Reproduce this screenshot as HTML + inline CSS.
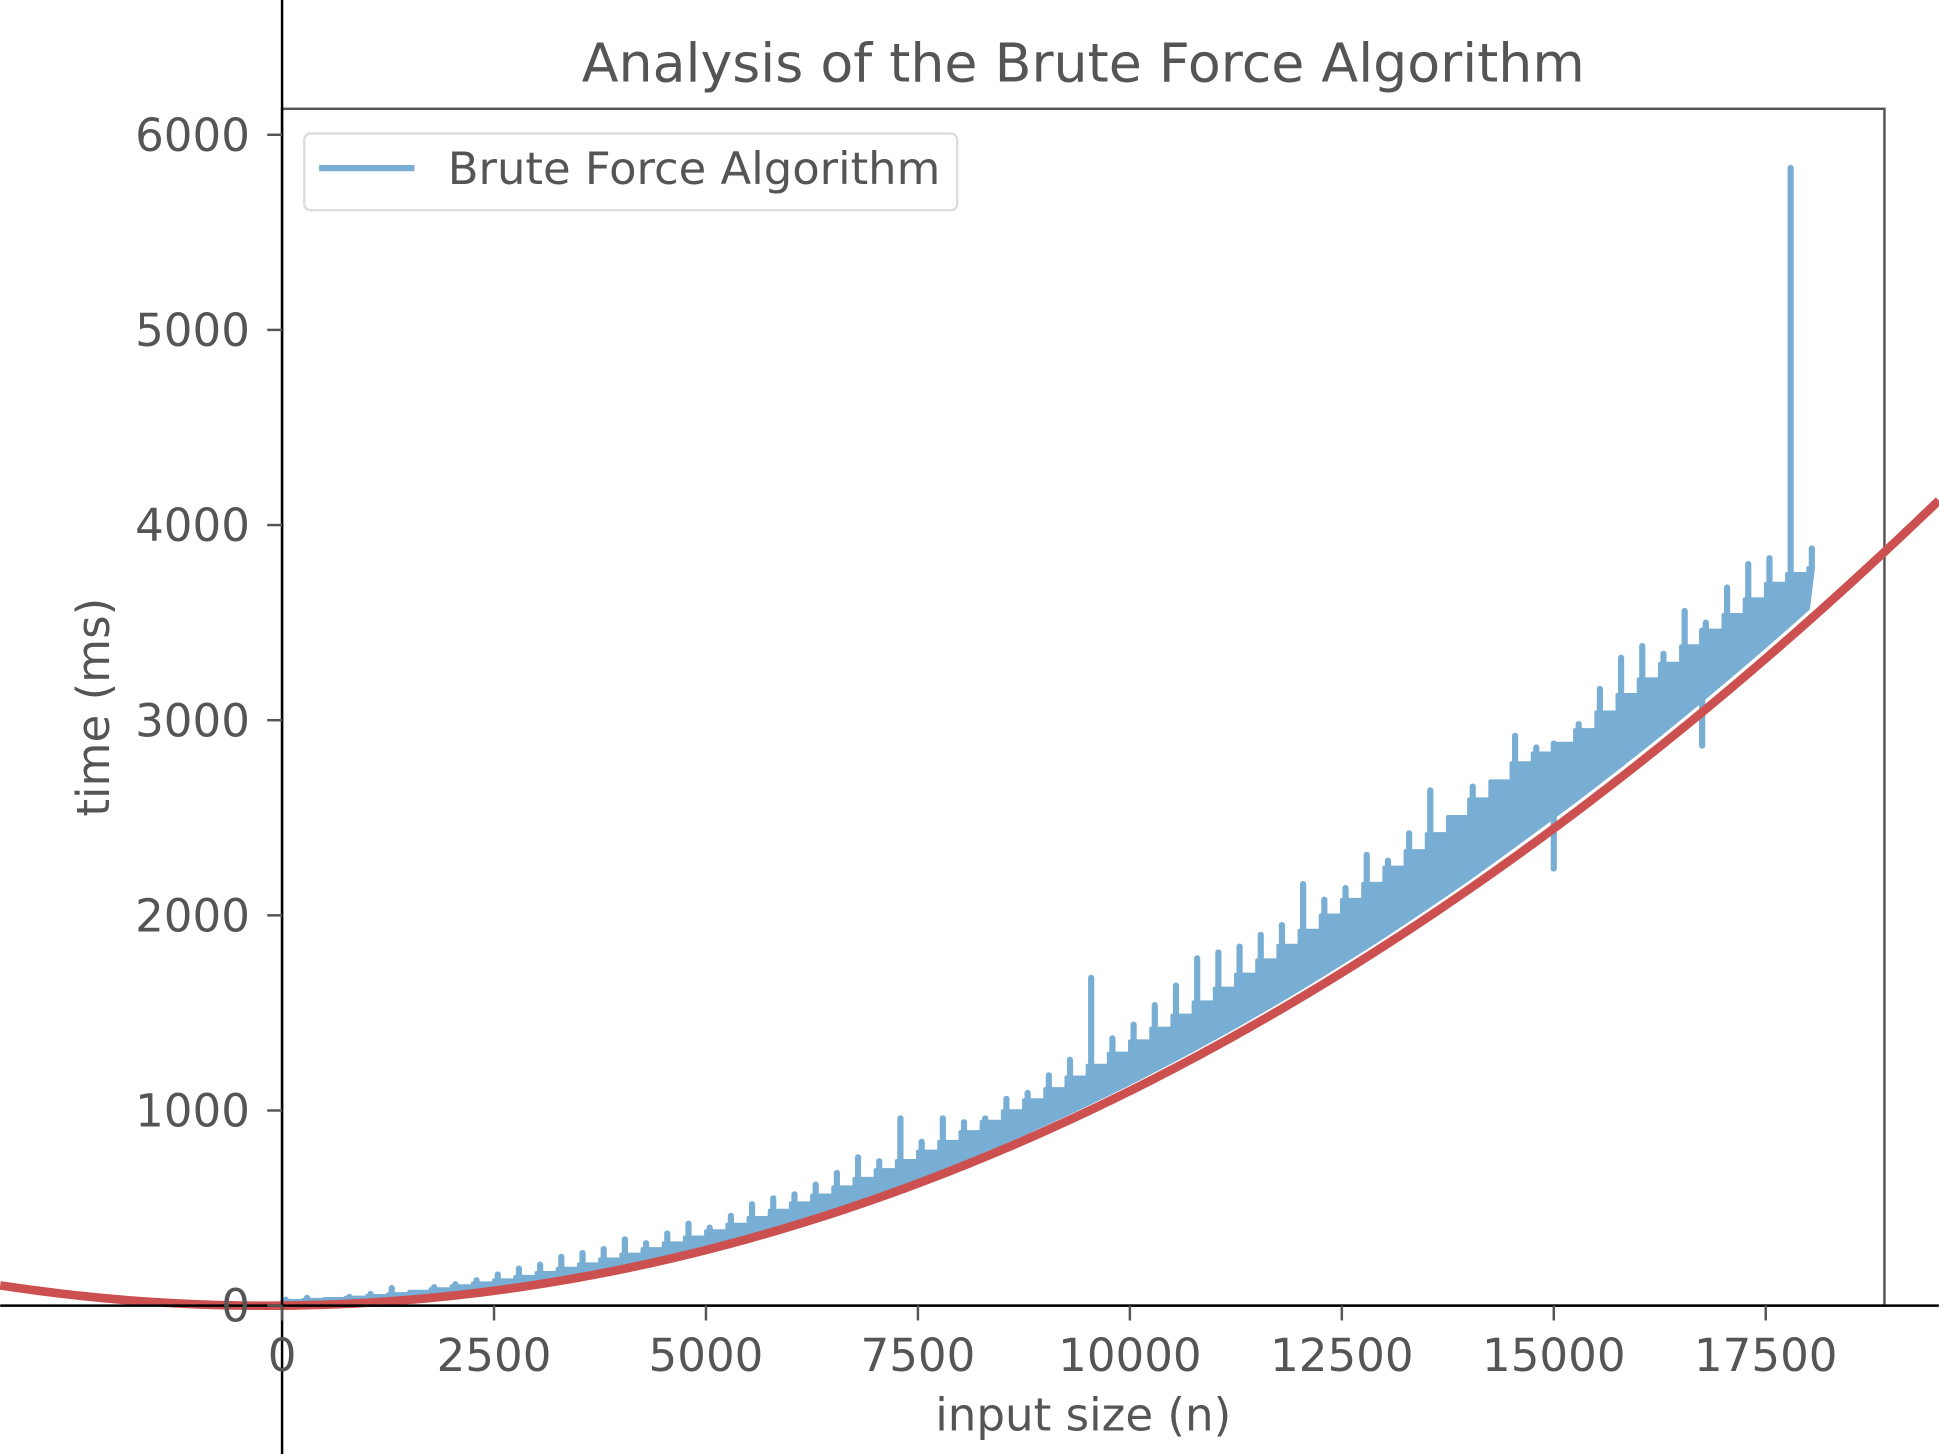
<!DOCTYPE html>
<html><head><meta charset="utf-8"><style>
html,body{margin:0;padding:0;background:#fff;}
svg{display:block;}
text{font-family:"DejaVu Sans","Liberation Sans",sans-serif;fill:#555;}
</style></head><body>
<svg id="chart" width="1939" height="1454" viewBox="0 0 1568 1176" xmlns="http://www.w3.org/2000/svg" style="position:absolute;left:0;top:0">
<g id="plot"></g>
</svg>
<script>
const nValues=[0,250,500,750,1000,1250,1500,1750,2000,2250,2500,2750,3000,3250,3500,3750,4000,4250,4500,4750,5000,5250,5500,5750,6000,6250,6500,6750,7000,7250,7500,7750,8000,8250,8500,8750,9000,9250,9500,9750,10000,10250,10500,10750,11000,11250,11500,11750,12000,12250,12500,12750,13000,13250,13500,13750,14000,14250,14500,14750,15000,15250,15500,15750,16000,16250,16500,16750,17000,17250,17500,17750,18000];
const lowMs=[0,3,7,12,19,27,36,46,58,72,86,102,119,137,158,179,202,226,252,277,305,334,365,396,430,464,500,537,575,615,656,698,742,787,834,881,931,981,1033,1086,1140,1196,1253,1311,1371,1431,1494,1557,1622,1688,1756,1824,1894,1966,2039,2113,2188,2266,2345,2425,2505,2586,2669,2753,2839,2925,3014,3104,3195,3287,3381,3476,3572];
const topMs=[25,30,35,42,50,60,72,85,100,115,130,148,168,190,212,237,262,290,320,350,382,415,450,487,525,565,607,650,695,742,790,840,890,943,997,1053,1110,1170,1230,1292,1355,1420,1487,1555,1625,1697,1770,1845,1922,2000,2080,2162,2245,2330,2417,2505,2595,2687,2780,2830,2880,2950,3040,3130,3210,3290,3380,3460,3540,3620,3700,3750,3780];
const peakMs=[30,40,30,45,60,90,70,95,110,130,160,190,210,250,270,290,340,320,370,420,400,460,520,550,570,620,680,760,740,960,840,960,940,960,1060,1090,1180,1260,1680,1370,1440,1540,1640,1780,1810,1840,1900,1950,2160,2080,2140,2310,2280,2420,2640,2500,2660,2600,2920,2860,2880,2980,3160,3320,3380,3340,3560,3500,3680,3800,3830,5830,3880];
const dipN=[15000,16750];
const dipMs=[2240,2870];
const fitA=1.06e-5, fitB=0.004;
const xTicks=[0,2500,5000,7500,10000,12500,15000,17500];
const yTicks=[0,1000,2000,3000,4000,5000,6000];

const NS="http://www.w3.org/2000/svg";
const g=document.getElementById('plot');
const X0=228, XS=1200/17500, Y0=1056, YS=947/6000;
const sx=n=>X0+n*XS, sy=v=>Y0-v*YS;
function mk(tag,attrs,parent){const e=document.createElementNS(NS,tag);for(const k in attrs)e.setAttribute(k,attrs[k]);(parent||g).appendChild(e);return e;}

const frame=mk('rect',{x:228,y:88,width:1296,height:968,fill:'none',stroke:'#555','stroke-width':2});



const last=nValues.length-1;
let d='M'+sx(nValues[0])+','+sy(lowMs[0]);
for(let i=0;i<=last;i++){
  const a=sx(nValues[i]), b=i<last?sx(nValues[i+1]):a+4;
  d+=' L'+a+','+sy(topMs[i])+' L'+b+','+sy(topMs[i]);
}
for(let i=last;i>=0;i--){d+=' L'+sx(nValues[i])+','+sy(lowMs[i]);}
d+='Z';
const band=mk('path',{d:d,fill:'#78aed4',stroke:'#78aed4','stroke-width':3,'stroke-linejoin':'round'});



for(let i=0;i<=last;i++){
  if(peakMs[i]>topMs[i]){
    const s=mk('line',{x1:sx(nValues[i])+3,y1:sy(topMs[i]),x2:sx(nValues[i])+3,y2:sy(peakMs[i]),stroke:'#78aed4','stroke-width':5,'stroke-linecap':'round'});
    
    
  }
}
for(let j=0;j<dipN.length;j++){
  const idx=nValues.indexOf(dipN[j]);
  const s=mk('line',{x1:sx(dipN[j]),y1:sy(topMs[idx]),x2:sx(dipN[j]),y2:sy(dipMs[j]),stroke:'#78aed4','stroke-width':5,'stroke-linecap':'round'});
  
  
}

let rd='';
for(let px=0;px<=1568;px+=4){const n=(px-X0)/XS;const v=fitA*n*n+fitB*n;rd+=(px?' L':'M')+px+','+sy(v);}
const red=mk('path',{d:rd,fill:'none',stroke:'#cc5050','stroke-width':7});



const ls=mk('line',{x1:228,y1:0,x2:228,y2:1176,stroke:'#000','stroke-width':2});


const bs=mk('line',{x1:0,y1:1056,x2:1568,y2:1056,stroke:'#000','stroke-width':2});



xTicks.forEach(t=>{
  const tk=mk('line',{x1:sx(t),y1:1056,x2:sx(t),y2:1068,stroke:'#555','stroke-width':2});
  
  
  const tl=mk('text',{x:sx(t),y:1109,'text-anchor':'middle','font-size':36.5});
  tl.textContent=t;
  
  
});
yTicks.forEach(t=>{
  const tk=mk('line',{x1:216,y1:sy(t),x2:228,y2:sy(t),stroke:'#555','stroke-width':2});
  
  
  const tl=mk('text',{x:202,y:sy(t)+13,'text-anchor':'end','font-size':36.5});
  tl.textContent=t;
  
  
});
</script>
<svg style="position:absolute;left:0;top:0" width="1939" height="1454" viewBox="0 0 1568 1176">
<text x="876" y="66" text-anchor="middle" font-size="43.5">Analysis of the Brute Force Algorithm</text>
<text x="876" y="1157" text-anchor="middle" font-size="36.5">input size (n)</text>
<text transform="translate(88,572) rotate(-90)" text-anchor="middle" font-size="36.5">time (ms)</text>
<g>
<rect x="246" y="108" width="528" height="62" rx="5" fill="#fff" fill-opacity="0.85" stroke="#ddd" stroke-width="2"/>
<line x1="258" y1="136" x2="335" y2="136" stroke="#78aed4" stroke-width="5"/>
<text x="362" y="149" font-size="36.3">Brute Force Algorithm</text>
</g>
</svg>
</body></html>
